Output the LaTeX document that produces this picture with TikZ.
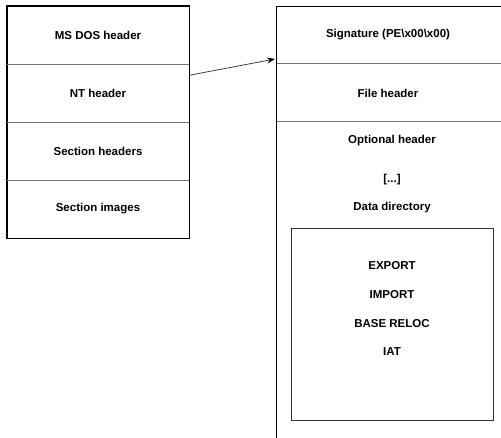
\documentclass[tikz,border=0pt]{standalone}
\usepackage{fontspec}
\setmainfont{Liberation Sans}
\usetikzlibrary{arrows.meta,calc}
\tikzset{
  lbl/.style={font=\fontsize{11.5}{13}\selectfont\bfseries, inner sep=0pt, text=black},
  row/.style={draw=black, line width=0.8pt, minimum width=182pt, minimum height=58pt, inner sep=0pt, font=\fontsize{11.5}{13}\selectfont\bfseries},
  frame/.style={draw=black, line width=0.8pt},
  divider/.style={draw=black!55, line width=1pt},
  conn/.style={draw=black!75, line width=0.8pt, -{Stealth[length=8pt,width=6pt,color=black]}},
}
\begin{document}
\begin{tikzpicture}[x=1pt,y=-1pt]
\useasboundingbox[fill=white] (0,0) rectangle (501,438);
% left column
\node[row] (dos) at (98,35) {MS DOS header};
\node[row] (nt) at (98,93) {NT header};
\node[row] (sech) at (98,151) {Section headers};
\node[row] (seci) at (98,209) {Section images};
\draw[divider] (dos.south west) -- (dos.south east);
\draw[divider] (nt.south west) -- (nt.south east);
\draw[divider] (sech.south west) -- (sech.south east);
\draw[frame] (dos.north west) rectangle (seci.south east);
% right column
\coordinate (rtl) at (276,6);
\coordinate (rtr) at (501,6);
\coordinate (rbl) at (276,438);
\coordinate (d1l) at (276,64);
\coordinate (d1r) at (501,64);
\coordinate (d2l) at (276,122);
\coordinate (d2r) at (501,122);
\node[lbl] (sig) at (388,35) {Signature (PE\textbackslash x00\textbackslash x00)};
\node[lbl] (fh) at (388,93) {File header};
\node[lbl] (oh) at (392,141) {Optional header};
\node[lbl] (dots) at (392,180) {[...]};
\node[lbl] (dd) at (392,208) {Data directory};
\draw[divider] (d1l) -- (d1r);
\draw[divider] (d2l) -- (d2r);
\draw[frame] (rtr) -- (rtl) -- (rbl);
% inner box
\node[draw=black!80, line width=0.9pt, minimum width=202pt, minimum height=192pt, inner sep=0pt] (ddbox) at (392,324) {};
\node[lbl] (exp) at (392,266) {EXPORT};
\node[lbl] (imp) at (392,295) {IMPORT};
\node[lbl] (rel) at (392,324) {BASE RELOC};
\node[lbl] (iat) at (392,352) {IAT};
% arrow
\coordinate (adst) at (275,59);
\draw[conn] (nt.11) -- (adst);
\end{tikzpicture}
\end{document}
